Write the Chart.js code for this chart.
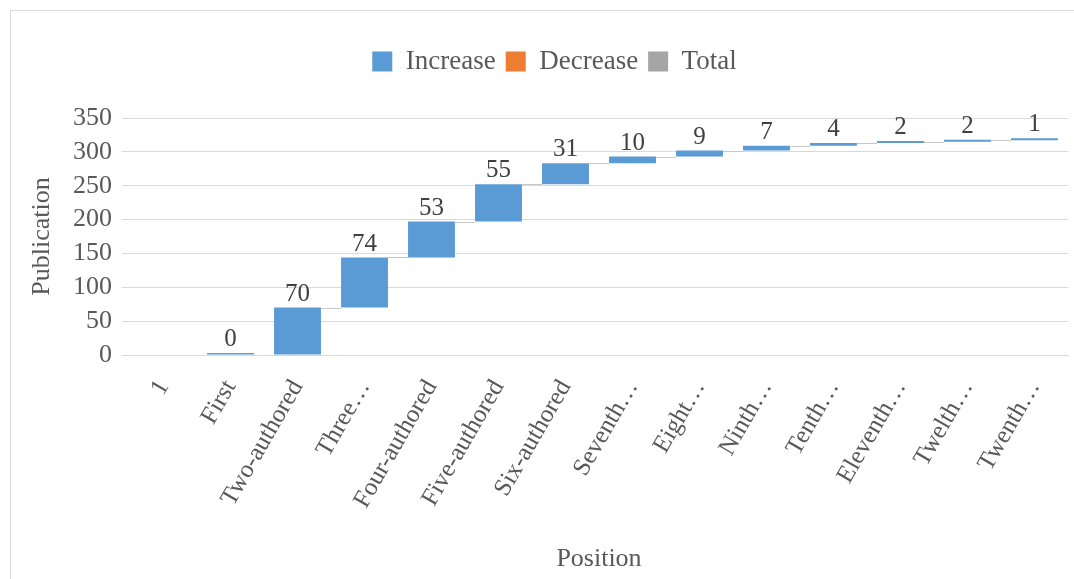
<!DOCTYPE html>
<html>
<head>
<meta charset="utf-8">
<script src="https://cdn.jsdelivr.net/npm/chart.js@4/dist/chart.umd.min.js"></script>
<style>
  html, body { margin: 0; padding: 0; background: #fff; }
  #wrap { position: relative; width: 1074px; height: 579px; }
  #frame {
    position: absolute; left: 10px; top: 10px; width: 1100px; height: 600px;
    border: 1px solid #d9d9d9; pointer-events: none;
  }
</style>
</head>
<body>
<div id="wrap">
  <canvas id="chart" width="1074" height="579"></canvas>
  <div id="frame"></div>
</div>
<script>
/* ============================
   DATA
============================ */

const categories = [
  "1", "First", "Two-authored", "Three…", "Four-authored", "Five-authored",
  "Six-authored", "Seventh…", "Eight…", "Ninth…", "Tenth…", "Eleventh…",
  "Twelth…", "Twenth…"
];

// increments per position (null = no bar)
const increments = [null, 0, 70, 74, 53, 55, 31, 10, 9, 7, 4, 2, 2, 1];

const yTicks = [0, 50, 100, 150, 200, 250, 300, 350];

const seriesNames = ["Increase", "Decrease", "Total"];
const seriesColors = ["#5b9bd5", "#ed7d31", "#a5a5a5"];

/* ============================
   BUILD FLOATING RANGES
============================ */

let running = 0;
const ranges = increments.map(v => {
  if(v === null) return null;
  const start = running;
  running += v;
  return [start, running];
});

const FONT = "'Liberation Serif', 'Times New Roman', serif";
const TEXT = "#595959";

/* ============================
   PLUGINS
============================ */

// extra room under the legend, nudge it a bit right
const legendGap = {
  id: "legendGap",
  beforeInit(chart){
    const fit = chart.legend.fit;
    chart.legend.fit = function(){
      fit.bind(chart.legend)();
      this.height += 33;
    };
  },
  afterUpdate(chart){
    chart.legend.left += 9;
    chart.legend.right += 9;
  }
};

// thin grey connectors between consecutive bars
const connectorPlugin = {
  id: "connectors",
  afterDatasetsDraw(chart){
    const meta = chart.getDatasetMeta(0);
    const y = chart.scales.y;
    const ctx = chart.ctx;
    ctx.save();
    ctx.strokeStyle = "#c8c8c8";
    ctx.lineWidth = 1;
    for(let i = 0; i < ranges.length - 1; i++){
      if(!ranges[i] || !ranges[i + 1] || ranges[i][1] === 0) continue;
      const a = meta.data[i], b = meta.data[i + 1];
      const py = Math.round(y.getPixelForValue(ranges[i][1])) + 0.5;
      ctx.beginPath();
      ctx.moveTo(a.x + a.width / 2, py);
      ctx.lineTo(b.x - b.width / 2, py);
      ctx.stroke();
    }
    ctx.restore();
  }
};

// value labels above bars
const labelPlugin = {
  id: "valueLabels",
  afterDatasetsDraw(chart){
    const meta = chart.getDatasetMeta(0);
    const ctx = chart.ctx;
    ctx.save();
    ctx.font = "25px " + FONT;
    ctx.fillStyle = "#404040";
    ctx.textAlign = "center";
    ctx.textBaseline = "bottom";
    meta.data.forEach((bar, i) => {
      if(increments[i] === null) return;
      const top = Math.min(bar.y, bar.base);
      ctx.fillText(String(increments[i]), bar.x, top - 1);
    });
    ctx.restore();
  }
};

/* ============================
   CHART
============================ */

new Chart(document.getElementById("chart"), {
  type: "bar",
  data: {
    labels: categories,
    datasets: [
      {
        label: seriesNames[0],
        data: ranges,
        backgroundColor: seriesColors[0],
        borderColor: seriesColors[0],
        borderWidth: 0,
        minBarLength: 2,
        grouped: false,
        barPercentage: 0.7,
        categoryPercentage: 1
      },
      {
        label: seriesNames[1],
        data: categories.map(() => null),
        backgroundColor: seriesColors[1],
        grouped: false
      },
      {
        label: seriesNames[2],
        data: categories.map(() => null),
        backgroundColor: seriesColors[2],
        grouped: false
      }
    ]
  },
  options: {
    responsive: false,
    animation: false,
    layout: { padding: { left: 23, right: 6, top: 38, bottom: 2 } },
    plugins: {
      legend: {
        position: "top",
        labels: {
          color: TEXT,
          font: { family: FONT, size: 27 },
          boxWidth: 20,
          boxHeight: 20,
          padding: 10
        }
      },
      tooltip: { enabled: false }
    },
    scales: {
      x: {
        grid: { display: false },
        border: { color: "#d9d9d9" },
        afterFit(axis){ axis.height = 222; },
        ticks: {
          color: TEXT,
          font: { family: FONT, size: 25 },
          minRotation: 60,
          maxRotation: 60,
          padding: 12,
          autoSkip: false
        },
        title: {
          display: true,
          text: "Position",
          color: TEXT,
          font: { family: FONT, size: 26 },
          padding: { top: 6, bottom: 2 }
        }
      },
      y: {
        min: 0,
        max: 350,
        afterBuildTicks(axis){
          axis.ticks = yTicks.map(v => ({ value: v }));
        },
        afterFit(axis){ axis.width = 107; },
        grid: { color: "#d9d9d9" },
        border: { display: false },
        ticks: {
          color: TEXT,
          font: { family: FONT, size: 26 },
          padding: 10,
          autoSkip: false
        },
        title: {
          display: true,
          text: "Publication",
          color: TEXT,
          font: { family: FONT, size: 26 }
        }
      }
    }
  },
  plugins: [legendGap, connectorPlugin, labelPlugin]
});
</script>
</body>
</html>
